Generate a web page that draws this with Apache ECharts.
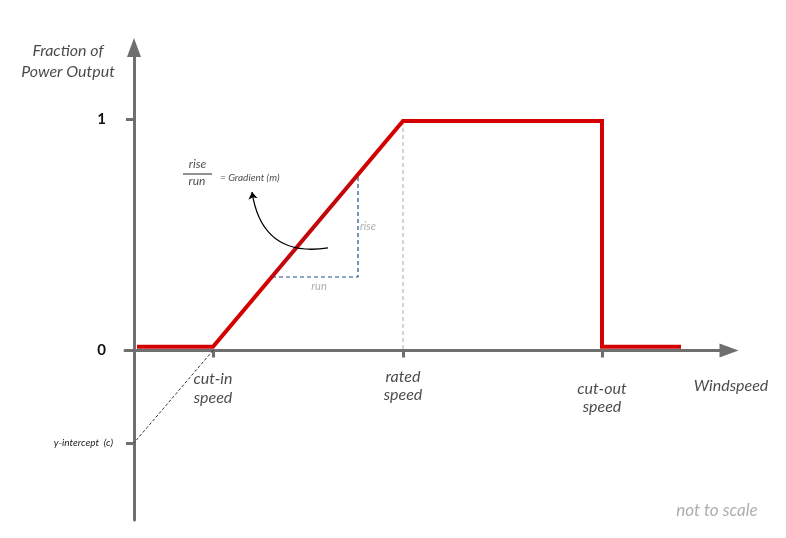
<!DOCTYPE html>
<html><head><meta charset="utf-8">
<script src="https://cdn.jsdelivr.net/npm/echarts@6/dist/echarts.min.js"></script>
<style>html,body{margin:0;padding:0;background:#fff}#c{width:786px;height:538px}</style>
</head><body><div id="c"></div>
<script>
// Power curve (x in arbitrary windspeed units, y = fraction of power output)
const curveX = [0.3, 7.9, 26.9, 46.8, 46.8, 54.7];
const curveY = [0.016, 0.016, 0.9935, 0.9935, 0.016, 0.016];
// x-axis tick values and labels (label y = vertical placement below the axis)
const xTickValues = [7.9, 26.9, 46.8];
const xTickLabels = ['cut-in\nspeed', 'rated\nspeed', 'cut-out\nspeed'];
const xTickLabelY = [-0.1645, -0.1537, -0.2056];
// y-axis tick values and labels
const yTickValues = [-0.40, 0, 1];
const yTickLabels = ['y-intercept  (c)', '0', '1'];
// construction lines
const interceptX = [7.9, 0];
const interceptY = [0, -0.40];
const ratedX = [26.9, 26.9];
const ratedY = [0.9935, 0];
const triX = [13.8, 22.4, 22.4, 13.8];
const triY = [0.318, 0.318, 0.76, 0.318];
const fracBarX = [4.9, 7.8];
const fracBarY = [0.764, 0.764];
const arrowFrom = [19.4, 0.444];
const arrowTo = [11.8, 0.686];

const FONT = 'Lato';
const AX = '#6f6f6f';
const TXT = '#1a1a1a';

function pts(xs, ys) { return xs.map((x, i) => [x, ys[i]]); }

const annotations = [
  { value: [-6.6, 1.253], text: 'Fraction of\nPower Output', size: 16, color: TXT, lh: 21, align: 'center' },
  { value: [6.35, 0.807], text: 'rise', size: 12, color: TXT, align: 'center' },
  { value: [6.3, 0.733], text: 'run', size: 12, color: TXT, align: 'center' },
  { value: [8.6, 0.7468], text: '= Gradient (m)', size: 10, color: TXT, align: 'left' },
  { value: [23.4, 0.539], text: 'rise', size: 11, color: '#999', align: 'center' },
  { value: [18.5, 0.276], text: 'run', size: 11, color: '#999', align: 'center' },
  { value: [59.7, -0.154], text: 'Windspeed', size: 16, color: TXT, align: 'center' },
  { value: [58.3, -0.695], text: 'not to scale', size: 17, color: '#999', align: 'center' }
].concat(xTickValues.map((v, i) => ({
  value: [v, xTickLabelY[i]], text: xTickLabels[i], size: 16, color: TXT, lh: 18.5, align: 'center'
})));

const chart = echarts.init(document.getElementById('c'), null, { renderer: 'canvas' });

const lineBase = { type: 'line', showSymbol: false, symbol: 'none', animation: false, silent: true, clip: false };

chart.setOption({
  animation: false,
  backgroundColor: '#fff',
  textStyle: { fontFamily: FONT },
  grid: { left: 125, right: 57, top: 47.5, bottom: 18, containLabel: false, outerBoundsMode: 'none' },
  xAxis: {
    type: 'value', min: -0.9, max: 59.5,
    splitLine: { show: false },
    axisLine: { show: true, onZero: true, symbol: ['none', 'triangle'], symbolSize: [14, 19],
      lineStyle: { color: AX, width: 3 } },
    axisTick: { show: true, customValues: xTickValues, length: 7, lineStyle: { color: AX, width: 3 } },
    axisLabel: { show: false }
  },
  yAxis: {
    type: 'value', min: -0.734, max: 1.3117,
    splitLine: { show: false },
    axisLine: { show: true, onZero: true, symbol: ['none', 'triangle'], symbolSize: [14, 19],
      lineStyle: { color: AX, width: 3 } },
    axisTick: { show: true, customValues: yTickValues, length: 8, lineStyle: { color: AX, width: 3 } },
    axisLabel: {
      show: true, customValues: yTickValues, margin: 12,
      formatter: function (v) {
        const i = yTickValues.findIndex(t => Math.abs(t - v) < 1e-6);
        if (i < 0) return '';
        return i === 0 ? '{s|' + yTickLabels[i] + '}' : '{b|' + yTickLabels[i] + '}';
      },
      rich: {
        s: { fontFamily: FONT, fontStyle: 'italic', fontSize: 10, color: TXT },
        b: { fontFamily: FONT, fontWeight: 'bold', fontSize: 15, color: '#111', padding: [0, 7, 0, 0] }
      }
    }
  },
  series: [
    Object.assign({}, lineBase, { name: 'intercept', data: pts(interceptX, interceptY), z: 2,
      lineStyle: { color: '#333', width: 1, type: [3, 2] } }),
    Object.assign({}, lineBase, { name: 'rated', data: pts(ratedX, ratedY), z: 2,
      lineStyle: { color: '#aaa', width: 1, type: [4, 3] } }),
    Object.assign({}, lineBase, { name: 'triangle', data: pts(triX, triY), z: 2,
      lineStyle: { color: '#1a4f8a', width: 1.2, type: [4, 3] } }),
    Object.assign({}, lineBase, { name: 'power', data: pts(curveX, curveY), z: 3,
      lineStyle: { color: '#d40000', width: 4, join: 'miter', cap: 'butt' } }),
    Object.assign({}, lineBase, { name: 'hyp', data: [[triX[0], triY[0]], [triX[2], triY[2]]], z: 4,
      lineStyle: { color: '#1a4f8a', width: 1, type: [4, 3], opacity: 0.7 } }),
    Object.assign({}, lineBase, { name: 'fracbar', data: pts(fracBarX, fracBarY), z: 4,
      lineStyle: { color: '#222', width: 1 } }),
    {
      type: 'lines', coordinateSystem: 'cartesian2d', animation: false, silent: true, z: 5,
      symbol: ['none', 'arrow'], symbolSize: [0, 7],
      lineStyle: { color: '#000', width: 1.3, opacity: 1, curveness: 0.5 },
      data: [{ coords: [arrowFrom, arrowTo] }]
    },
    {
      type: 'scatter', symbolSize: 0, clip: false, animation: false, silent: true, z: 6,
      data: annotations.map(a => ({
        value: a.value,
        label: {
          show: true, position: 'inside', formatter: a.text,
          fontFamily: FONT, fontStyle: 'italic', fontSize: a.size, color: a.color,
          lineHeight: a.lh || Math.round(a.size * 1.2), align: a.align, verticalAlign: 'middle'
        }
      }))
    }
  ]
});
</script></body></html>
